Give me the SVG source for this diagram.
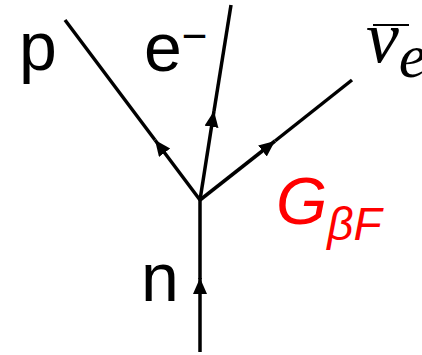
<svg xmlns="http://www.w3.org/2000/svg" width="422" height="355" viewBox="0 0 422 355">
<style>
.ln{stroke:#000;stroke-width:3.5;fill:none}
.lbl{font-family:"Liberation Sans",Arial,sans-serif;fill:#000}
.nu{font-family:"Liberation Serif","Times New Roman",serif;font-style:italic;fill:#000}
.g{font-family:"Liberation Sans",Arial,sans-serif;font-style:italic;fill:#ff0000}
</style>
<defs>
<marker id="ah" markerUnits="userSpaceOnUse" markerWidth="18" markerHeight="16" refX="16" refY="7" orient="auto">
<path d="M0,0 L16,7 L0,14 z" fill="#000"/>
</marker>
</defs>
<rect width="422" height="355" fill="#fff"/>
<g id="connectors">
<path class="ln" d="M200,352 L200,278" marker-end="url(#ah)"/>
<path class="ln" d="M200,279 L200,200"/>
<path class="ln" d="M200,200 L155,140" marker-end="url(#ah)"/>
<path class="ln" d="M155,140 L65,20"/>
<path class="ln" d="M200,200 L214,111" marker-end="url(#ah)"/>
<path class="ln" d="M214,111 L231,5"/>
<path class="ln" d="M200,200 L275,141" marker-end="url(#ah)"/>
<path class="ln" d="M275,141 L352,80"/>
</g>
<g id="node-p"><text class="lbl" x="19" y="70" font-size="68">p</text></g>
<g id="node-e"><text class="lbl" x="144" y="71" font-size="68">e<tspan font-size="44" dy="-20">−</tspan></text></g>
<g id="node-n"><text class="lbl" x="141" y="301" font-size="68">n</text></g>
<g id="node-nu">
<text class="nu" x="366" y="62" font-size="74">ν<tspan font-size="62" dy="15">e</tspan></text>
<line x1="373" y1="25" x2="409" y2="25" stroke="#000" stroke-width="2"/>
</g>
<g id="label-G"><text class="g" x="276" y="224" font-size="66">G<tspan font-size="46" dy="16">βF</tspan></text></g>
</svg>
